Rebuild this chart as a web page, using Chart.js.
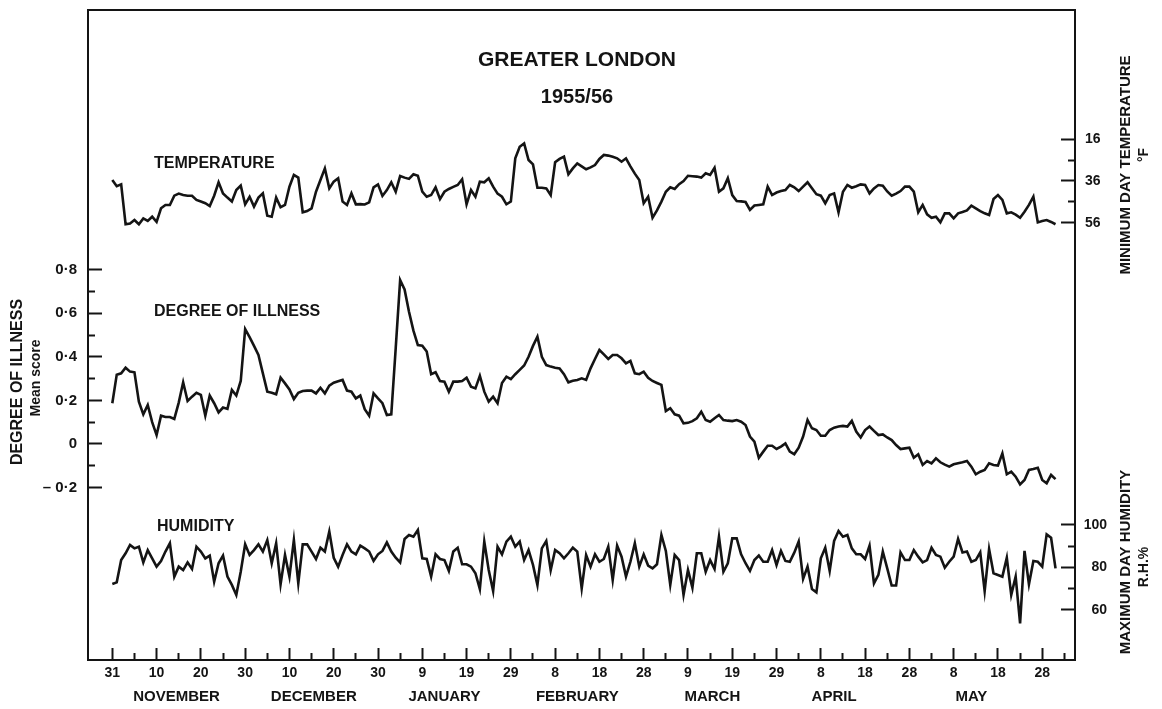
<!DOCTYPE html>
<html lang="en">
<head>
<meta charset="UTF-8">
<title>Greater London 1955/56</title>
<style>
  body { margin: 0; background: #fff; }
  canvas { display: block; }
</style>
</head>
<body>
<canvas id="chart" width="1162" height="709"></canvas>
<script src="https://cdn.jsdelivr.net/npm/chart.js"></script>
<script>
// one reading per day, day 0 = 31 October 1955
const temperature = [
  35.5, 38.5, 37.6, 56.6, 56.2, 54.6, 56.6, 53.8, 55, 53,
  55.5, 49, 47.4, 47.4, 43, 42, 42.7, 43, 43, 45,
  45.8, 46.6, 47.9, 43, 36.6, 41.9, 43.9, 45.8, 40.3, 38.2,
  47.1, 43.5, 48.2, 43.9, 41.9, 52.5, 53, 43.9, 48.5, 47.4,
  38.7, 33.1, 34.4, 50.9, 50.3, 49, 41.1, 35.5, 30, 39.5,
  36.3, 34.7, 45.8, 47.4, 41.9, 47.1, 47, 47.2, 46.2, 39,
  37.6, 43.1, 40.3, 36.6, 41.1, 33.6, 34.4, 35, 32.8, 33.5,
  41.1, 43.5, 42.7, 39, 44.6, 41.1, 39.8, 38.8, 37.9, 35.2,
  47.1, 40.3, 43.5, 36.3, 36.6, 34.7, 38.7, 42, 43.5, 47.1,
  45.8, 25.2, 19.7, 18.1, 26, 28.1, 39.2, 39.2, 39.5, 42.7,
  27.1, 25.5, 24.4, 32.8, 30, 27.6, 29, 30.4, 29.5, 28.4,
  25.5, 23.6, 23.9, 24.5, 25.2, 26.8, 25.2, 29, 32.5, 35.5,
  46.6, 43.5, 53.5, 50, 45.8, 41.1, 39, 39.8, 37.5, 36,
  33.5, 33.7, 33.9, 34.4, 32.3, 33.1, 29.7, 41.1, 39.5, 34.7,
  42.7, 45.5, 45.7, 46, 49.8, 47.7, 47.4, 47.1, 38.7, 42.7,
  41.5, 40.8, 40.3, 37.9, 39, 40.8, 38.7, 36.6, 39.5, 42.3,
  43, 46.6, 42.7, 41.9, 50.9, 41.1, 37.9, 39.2, 38.5, 37.6,
  37.9, 41.9, 39.5, 37.9, 38.2, 41, 43, 42, 40.8, 38.7,
  38.7, 41.1, 50.9, 47.4, 51.9, 53.5, 53, 55.7, 51.4, 51.4,
  53.8, 51.4, 50.8, 50, 47.7, 49, 50.3, 51.4, 52.2, 44.6,
  42.7, 45, 51.4, 50.9, 52, 53.5, 50.6, 47.4, 43.5, 55.7,
  55, 54.6, 55.5, 56.6
];

const illness = [
  0.187, 0.318, 0.324, 0.350, 0.332, 0.329, 0.194, 0.136, 0.179, 0.100,
  0.041, 0.130, 0.124, 0.124, 0.115, 0.190, 0.283, 0.197, 0.217, 0.235,
  0.225, 0.130, 0.222, 0.187, 0.145, 0.167, 0.161, 0.248, 0.222, 0.289,
  0.527, 0.490, 0.450, 0.408, 0.324, 0.240, 0.235, 0.228, 0.304, 0.278,
  0.250, 0.206, 0.235, 0.243, 0.245, 0.245, 0.232, 0.258, 0.232, 0.268,
  0.281, 0.288, 0.294, 0.245, 0.240, 0.209, 0.222, 0.160, 0.130, 0.232,
  0.209, 0.187, 0.133, 0.136, 0.440, 0.752, 0.709, 0.607, 0.520, 0.454,
  0.451, 0.424, 0.320, 0.329, 0.289, 0.286, 0.240, 0.286, 0.286, 0.289,
  0.304, 0.263, 0.255, 0.313, 0.240, 0.194, 0.217, 0.187, 0.280, 0.309,
  0.298, 0.320, 0.340, 0.360, 0.400, 0.450, 0.492, 0.400, 0.362, 0.355,
  0.350, 0.347, 0.320, 0.283, 0.290, 0.294, 0.301, 0.294, 0.347, 0.390,
  0.431, 0.411, 0.390, 0.408, 0.408, 0.393, 0.370, 0.381, 0.324, 0.320,
  0.332, 0.304, 0.289, 0.280, 0.271, 0.151, 0.164, 0.136, 0.130, 0.095,
  0.097, 0.105, 0.118, 0.148, 0.110, 0.102, 0.118, 0.133, 0.110, 0.107,
  0.105, 0.110, 0.102, 0.087, 0.034, 0.011, -0.063, -0.035, -0.008, -0.008,
  -0.023, -0.012, 0.003, -0.035, -0.047, -0.017, 0.034, 0.110, 0.072, 0.064,
  0.038, 0.038, 0.064, 0.075, 0.080, 0.083, 0.080, 0.106, 0.057, 0.030,
  0.064, 0.080, 0.060, 0.041, 0.044, 0.030, 0.018, -0.005, -0.023, -0.020,
  -0.017, -0.063, -0.047, -0.096, -0.078, -0.089, -0.066, -0.084, -0.095, -0.104,
  -0.093, -0.088, -0.084, -0.078, -0.104, -0.139, -0.127, -0.119, -0.089, -0.096,
  -0.099, -0.043, -0.139, -0.127, -0.150, -0.185, -0.165, -0.119, -0.115, -0.109,
  -0.165, -0.180, -0.142, -0.161
];

const humidity = [
  72.2, 73, 83.5, 86.7, 90.6, 89, 89.8, 82.4, 88.2, 84.3,
  80.4, 83, 87.5, 91.4, 75.7, 80.4, 78.8, 82.4, 79.3, 89.8,
  87.5, 84.3, 85.6, 73.3, 82, 85.6, 75.7, 71.8, 67.1, 78,
  90.9, 85.9, 88.2, 90.9, 87.5, 92.9, 82, 91.4, 72.1, 85.9,
  75.7, 92.9, 72.5, 90.9, 90.9, 87.5, 84, 89.3, 87.5, 96.9,
  84.6, 80.4, 85.9, 90.9, 87.5, 86.2, 90.3, 89, 87.5, 83.1,
  86.2, 87.8, 91.8, 87.5, 84.6, 82.4, 93.4, 95.3, 94.5, 97.6,
  84.3, 84, 75.7, 86.2, 84, 83.5, 78.4, 87.5, 89.3, 81.5,
  81.5, 80.4, 77.3, 69.8, 92.2, 78.8, 68.9, 89.8, 86.2, 92.2,
  94.5, 89.8, 92.2, 83.5, 88.2, 81.2, 71.8, 89, 92.5, 78.8,
  88.2, 86.7, 84.3, 86.7, 89.3, 87.5, 70.2, 85.9, 80.4, 86.2,
  82.7, 84, 89.8, 74.1, 90.3, 85.1, 75.7, 82.7, 91.4, 80.4,
  86.2, 80.9, 79.6, 81.5, 95.3, 87.8, 71.8, 85.9, 83.5, 67.1,
  78.8, 70.5, 86.7, 86.7, 78, 83.5, 79.3, 94.5, 78, 82,
  93.7, 93.7, 86.2, 82, 78.4, 83.5, 85.6, 82.7, 82.7, 88.2,
  81.2, 87.8, 83.1, 82.7, 87, 92.2, 74.6, 80.4, 69.9, 68.3,
  84.3, 89.3, 78.4, 92.5, 97.2, 94.5, 95.3, 89, 86.2, 86.2,
  84, 90.3, 72.5, 76.5, 87.5, 79.6, 71.5, 71.5, 87.1, 83.5,
  83.5, 88.2, 85.1, 82.4, 83.5, 89.3, 85.9, 85.1, 79.9, 82.7,
  85.1, 93.4, 87.1, 87.5, 82.7, 83.5, 87.1, 68.9, 88.7, 77.3,
  76.5, 75.7, 84.6, 67.1, 75.7, 53.7, 87.8, 72.1, 83.1, 82.7,
  80.4, 95.6, 94, 79.6
];

const dayTicks = [0, 10, 20, 30, 40, 50, 60, 70, 80, 90, 100, 110, 120, 130, 140, 150, 160, 170, 180, 190, 200, 210];
const dayLabels = ['31', '10', '20', '30', '10', '20', '30', '9', '19', '29', '8', '18', '28', '9', '19', '29', '8', '18', '28', '8', '18', '28'];
const dayMinorTicks = [5, 15, 25, 35, 45, 55, 65, 75, 85, 95, 105, 115, 125, 135, 145, 155, 165, 175, 185, 195, 205, 215];
const monthNames = ['NOVEMBER', 'DECEMBER', 'JANUARY', 'FEBRUARY', 'MARCH', 'APRIL', 'MAY'];
const monthTicks = [14.5, 45.5, 75, 105, 135.5, 163, 194];
const illnessTicks = [-0.2, 0, 0.2, 0.4, 0.6, 0.8];
const illnessMinorTicks = [-0.1, 0.1, 0.3, 0.5, 0.7];
const tempTicks = [16, 36, 56];
const tempMinorTicks = [26, 46];
const humidityTicks = [60, 80, 100];
const humidityMinorTicks = [70, 90];

const ink = '#141414';
const family = '"Liberation Sans", Arial, sans-serif';
Chart.defaults.font.family = family;
Chart.defaults.color = ink;

const points = arr => arr.map((v, i) => ({ x: i, y: v }));
const fixTicks = list => scale => { scale.ticks = list.map(v => ({ value: v })); };
const bold = size => ({ family, size, weight: 'bold' });

// give an axis a fixed thickness and drop the label overhang padding
const sized = (w, h) => s => {
  if (w !== null) s.width = w;
  if (h !== null) s.height = h;
  s.paddingTop = 0; s.paddingBottom = 0; s.paddingLeft = 0; s.paddingRight = 0;
};

function tickAxis(position, min, max, ticks, len, extra) {
  return Object.assign({
    type: 'linear', position, min, max,
    afterBuildTicks: fixTicks(ticks),
    grid: { drawOnChartArea: false, tickLength: len, tickWidth: 2, tickColor: ink },
    border: { display: false },
    ticks: { autoSkip: false, maxRotation: 0, callback: () => '' }
  }, extra);
}

function fmtIllness(v) {
  if (Math.abs(v) < 1e-9) return '0';
  const s = '0·' + Math.round(Math.abs(v) * 10);
  return v < 0 ? '– ' + s : s;
}

function upright(ctx, text, x, y, font) {
  ctx.save();
  ctx.translate(x, y);
  ctx.rotate(-Math.PI / 2);
  ctx.font = font;
  ctx.textAlign = 'center';
  ctx.textBaseline = 'middle';
  ctx.fillText(text, 0, 0);
  ctx.restore();
}

const lettering = {
  id: 'lettering',
  afterDraw(chart) {
    const c = chart.ctx;
    c.save();
    c.fillStyle = ink;
    c.textBaseline = 'middle';
    c.textAlign = 'center';
    c.font = 'bold 21px ' + family;
    c.fillText('GREATER LONDON', 577, 60);
    c.font = 'bold 20px ' + family;
    c.fillText('1955/56', 577, 97);
    c.textAlign = 'left';
    c.font = 'bold 16px ' + family;
    c.fillText('TEMPERATURE', 154, 164);
    c.fillText('DEGREE OF ILLNESS', 154, 312);
    c.fillText('HUMIDITY', 157, 527);
    upright(c, 'DEGREE OF ILLNESS', 18, 382, 'bold 16px ' + family);
    upright(c, 'Mean score', 36, 378, 'bold 14px ' + family);
    upright(c, 'MINIMUM DAY TEMPERATURE', 1126, 165, 'bold 15px ' + family);
    upright(c, '°F', 1144, 155, 'bold 14px ' + family);
    upright(c, 'MAXIMUM DAY HUMIDITY', 1126, 562, 'bold 15px ' + family);
    upright(c, 'R.H.%', 1144, 567, 'bold 14px ' + family);
    c.restore();
  }
};

const X_MIN = -5.49, X_MAX = 217.4;
const line = { borderColor: ink, borderWidth: 2.6, pointRadius: 0, tension: 0, fill: false, xAxisID: 'x' };

new Chart(document.getElementById('chart'), {
  type: 'line',
  data: {
    datasets: [
      Object.assign({ label: 'Temperature', data: points(temperature), yAxisID: 'yTemp' }, line),
      Object.assign({ label: 'Degree of illness', data: points(illness), yAxisID: 'yIll' }, line),
      Object.assign({ label: 'Humidity', data: points(humidity), yAxisID: 'yHum' }, line)
    ]
  },
  options: {
    responsive: false,
    animation: false,
    layout: { padding: { left: 0, right: 0, top: 10, bottom: 0 } },
    plugins: { legend: { display: false }, tooltip: { enabled: false } },
    scales: {
      x: tickAxis('bottom', X_MIN, X_MAX, dayTicks, -12, {
        weight: 1,
        afterFit: sized(null, 25),
        border: { display: true, color: ink, width: 2 },
        ticks: { autoSkip: false, maxRotation: 0, padding: 17, color: ink, font: bold(14), callback: (v, i) => dayLabels[i] }
      }),
      xMinor: tickAxis('bottom', X_MIN, X_MAX, dayMinorTicks, -7, {
        weight: 0,
        afterFit: sized(null, 0)
      }),
      xMonth: tickAxis('bottom', X_MIN, X_MAX, monthTicks, 0, {
        weight: 2,
        afterFit: sized(null, 24),
        grid: { display: false, drawTicks: false },
        ticks: { autoSkip: false, maxRotation: 0, padding: 3, color: ink, font: bold(15), callback: (v, i) => monthNames[i] }
      }),
      xTop: {
        type: 'linear', position: 'top', min: X_MIN, max: X_MAX,
        afterFit: sized(null, 0),
        grid: { drawOnChartArea: false, drawTicks: false },
        border: { display: true, color: ink, width: 2 },
        ticks: { display: false }
      },
      yIll: tickAxis('left', -0.991, 1.991, illnessTicks, -14, {
        weight: 1,
        afterFit: sized(88, null),
        border: { display: true, color: ink, width: 2 },
        ticks: { autoSkip: false, padding: 25, color: ink, font: bold(15), callback: v => fmtIllness(v) }
      }),
      yIllMinor: tickAxis('left', -0.991, 1.991, illnessMinorTicks, -7, {
        weight: 0,
        afterFit: sized(0, null)
      }),
      // outer right axis carries the space for the lettering on that side
      yTemp: tickAxis('right', -45.43, 264.1, tempTicks, -14, {
        weight: 1,
        reverse: true,
        afterFit: sized(87, null),
        border: { display: true, color: ink, width: 2 },
        ticks: { autoSkip: false, padding: 24, color: ink, font: bold(14), callback: v => String(v) }
      }),
      yTempMinor: tickAxis('right', -45.43, 264.1, tempMinorTicks, -7, {
        weight: 0,
        reverse: true,
        afterFit: sized(0, null)
      }),
      yHum: tickAxis('right', 36.47, 342.35, humidityTicks, -14, {
        weight: 0,
        afterFit: sized(0, null),
        ticks: { autoSkip: false, mirror: true, crossAlign: 'near', padding: 32, color: ink, font: bold(14), callback: v => String(v) }
      }),
      yHumMinor: tickAxis('right', 36.47, 342.35, humidityMinorTicks, -7, {
        weight: 0,
        afterFit: sized(0, null)
      })
    }
  },
  plugins: [lettering]
});
</script>
</body>
</html>
